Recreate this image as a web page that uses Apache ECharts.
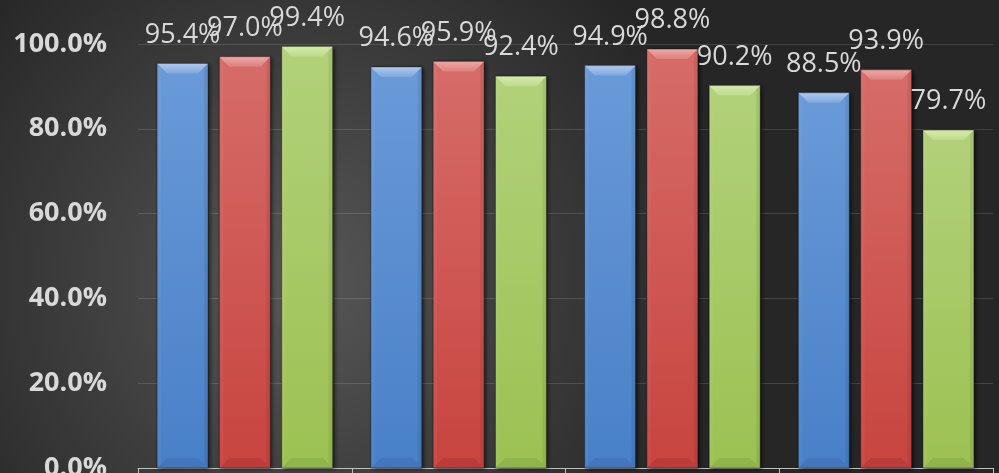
<!DOCTYPE html>
<html>
<head>
<meta charset="utf-8">
<script src="https://cdn.jsdelivr.net/npm/echarts@6/dist/echarts.min.js"></script>
<style>
html,body{margin:0;padding:0;background:#2b2b2b;}
#chart{width:999px;height:473px;}
</style>
</head>
<body>
<div id="chart"></div>
<script>
// ---- data ----
var categories = ['A', 'B', 'C', 'D'];
var seriesNames = ['Series 1', 'Series 2', 'Series 3'];
var blueValues  = [0.954, 0.946, 0.949, 0.885];
var redValues   = [0.970, 0.959, 0.988, 0.939];
var greenValues = [0.994, 0.924, 0.902, 0.797];
var yTicks = [0, 0.2, 0.4, 0.6, 0.8, 1.0];

// ---- styling ----
var BAR_W = 51, BAR_GAP = 11.3, BEVEL = 10;
var palettes = [
  {face: ['#6a9ad8', '#4880c8'], top: ['#aecaef', '#7fa8de'], bottom: 'rgba(40,80,140,0.18)'},
  {face: ['#d66c68', '#c8443f'], top: ['#efa8a5', '#dd807c'], bottom: 'rgba(130,30,28,0.18)'},
  {face: ['#b2d17a', '#9cc152'], top: ['#d5eaab', '#bedb8c'], bottom: 'rgba(90,120,40,0.18)'}
];
var allValues = [blueValues, redValues, greenValues];

function vgrad(c) {
  return new echarts.graphic.LinearGradient(0, 0, 0, 1, [
    {offset: 0, color: c[0]}, {offset: 1, color: c[1]}
  ]);
}

var labelStyle = {
  show: true, position: 'top', distance: 15,
  fontFamily: 'Open Sans', fontSize: 27, color: '#d9d9d9',
  formatter: function (p) { return (p.value * 100).toFixed(1) + '%'; }
};

var barSeries = allValues.map(function (vals, s) {
  return {
    name: seriesNames[s], type: 'bar', data: vals,
    barWidth: BAR_W, barGap: (BAR_GAP / BAR_W * 100).toFixed(1) + '%',
    itemStyle: {
      color: vgrad(palettes[s].face),
      shadowBlur: 4, shadowColor: 'rgba(0,0,0,0.6)', shadowOffsetX: 2, shadowOffsetY: 1
    },
    label: labelStyle, z: 2
  };
});

var bevelData = [];
allValues.forEach(function (vals, s) {
  vals.forEach(function (v, i) { bevelData.push([i, v, s]); });
});

var bevelSeries = {
  type: 'custom', silent: true, z: 3, data: bevelData,
  encode: {x: 0, y: 1},
  renderItem: function (params, api) {
    var i = api.value(0), v = api.value(1), s = api.value(2);
    var top = api.coord([i, v]);
    var base = api.coord([i, 0]);
    var cx = top[0] + (s - 1) * (BAR_W + BAR_GAP);
    var x0 = cx - BAR_W / 2, x1 = cx + BAR_W / 2;
    var yt = top[1], yb = base[1];
    var b = BEVEL, p = palettes[s];
    return {
      type: 'group',
      children: [
        {type: 'polygon', shape: {points: [[x0, yt], [x1, yt], [x1 - b, yt + b], [x0 + b, yt + b]]},
         style: {fill: new echarts.graphic.LinearGradient(0, 0, 0, 1, [
           {offset: 0, color: p.top[0]}, {offset: 1, color: p.top[1]}])}},
        {type: 'polygon', shape: {points: [[x0, yt], [x0 + b * 0.4, yt + b * 0.4], [x0 + b * 0.4, yb - b * 0.4], [x0, yb]]},
         style: {fill: 'rgba(255,255,255,0.04)'}},
        {type: 'polygon', shape: {points: [[x1, yt], [x1 - b * 0.4, yt + b * 0.4], [x1 - b * 0.4, yb - b * 0.4], [x1, yb]]},
         style: {fill: 'rgba(0,0,0,0.07)'}},
        {type: 'polygon', shape: {points: [[x0, yb], [x1, yb], [x1 - b, yb - b], [x0 + b, yb - b]]},
         style: {fill: p.bottom}},
        {type: 'rect', shape: {x: x0, y: yt, width: BAR_W, height: yb - yt},
         style: {fill: 'none', stroke: 'rgba(0,0,0,0.35)', lineWidth: 1}}
      ]
    };
  }
};

var chart = echarts.init(document.getElementById('chart'), null, {renderer: 'canvas'});
chart.setOption({
  animation: false,
  backgroundColor: new echarts.graphic.RadialGradient(0.3, 0.6, 0.9, [
    {offset: 0, color: '#575757'}, {offset: 1, color: '#262626'}
  ]),
  grid: {left: 138, right: 6, top: 44, bottom: 5, containLabel: false, outerBoundsMode: 'none'},
  xAxis: {
    type: 'category', data: categories,
    axisLine: {show: true, lineStyle: {color: '#bfbfbf', width: 1}},
    axisTick: {show: true, length: 6, lineStyle: {color: '#bfbfbf'}},
    axisLabel: {show: false}
  },
  yAxis: {
    type: 'value', min: yTicks[0], max: yTicks[yTicks.length - 1], interval: yTicks[1] - yTicks[0],
    axisLine: {show: false}, axisTick: {show: false},
    splitLine: {lineStyle: {color: 'rgba(255,255,255,0.13)', width: 1}},
    axisLabel: {
      margin: 31, fontFamily: 'Open Sans', fontWeight: 'bold', fontSize: 27, color: '#d9d9d9',
      formatter: function (v) { return (v * 100).toFixed(1) + '%'; }
    }
  },
  series: barSeries.concat([bevelSeries])
});
</script>
</body>
</html>
